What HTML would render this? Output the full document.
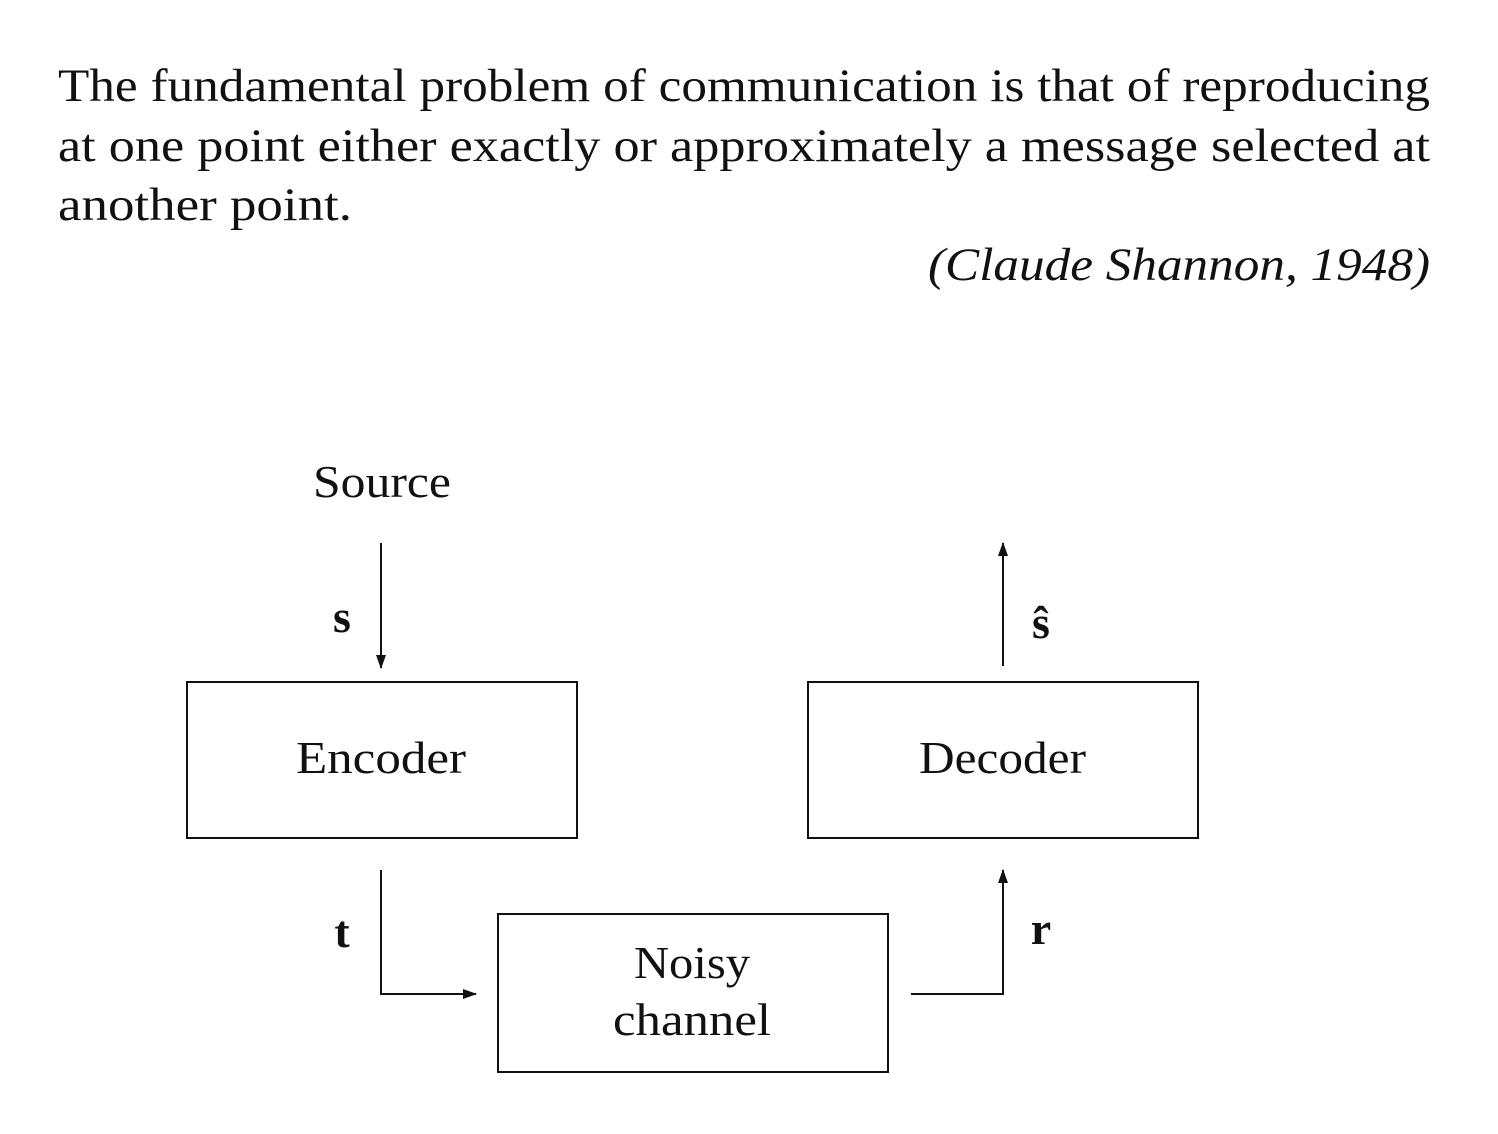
<!DOCTYPE html>
<html>
<head>
<meta charset="utf-8">
<style>
html,body{margin:0;padding:0;background:#fff;}
svg{display:block;}
text{font-family:"Liberation Serif",serif;fill:#111;}
</style>
</head>
<body>
<svg width="1498" height="1134" viewBox="0 0 1498 1134">
  <defs>
    <marker id="ah" markerWidth="14" markerHeight="10" refX="13" refY="5" orient="auto" markerUnits="userSpaceOnUse">
      <path d="M0,0 L14,5 L0,10 Z" fill="#111"/>
    </marker>
  </defs>
  <g font-size="47">
    <text x="58" y="101" textLength="1372" lengthAdjust="spacingAndGlyphs">The fundamental problem of communication is that of reproducing</text>
    <text x="58" y="161" textLength="1372" lengthAdjust="spacingAndGlyphs">at one point either exactly or approximately a message selected at</text>
    <text x="58" y="220" textLength="294" lengthAdjust="spacingAndGlyphs">another point.</text>
  </g>
  <text x="928" y="280" font-size="47" font-style="italic" textLength="502" lengthAdjust="spacingAndGlyphs">(Claude Shannon, 1948)</text>

  <g font-size="46">
    <text x="313" y="497" textLength="138" lengthAdjust="spacingAndGlyphs">Source</text>
    <text x="296" y="773" textLength="170" lengthAdjust="spacingAndGlyphs">Encoder</text>
    <text x="919" y="773" textLength="167" lengthAdjust="spacingAndGlyphs">Decoder</text>
    <text x="634" y="978" textLength="116" lengthAdjust="spacingAndGlyphs">Noisy</text>
    <text x="613" y="1035" textLength="158" lengthAdjust="spacingAndGlyphs">channel</text>
  </g>
  <g font-size="46" text-anchor="middle" font-weight="bold">
    <text x="342" y="632">s</text>
    <text x="1041" y="638">ŝ</text>
    <text x="342" y="947">t</text>
    <text x="1041" y="944">r</text>
  </g>

  <g fill="none" stroke="#111" stroke-width="2">
    <rect x="187" y="682" width="390" height="156"/>
    <rect x="808" y="682" width="390" height="156"/>
    <rect x="498" y="914" width="390" height="158"/>
    <line x1="381" y1="543" x2="381" y2="668" marker-end="url(#ah)"/>
    <line x1="1003" y1="666" x2="1003" y2="543" marker-end="url(#ah)"/>
    <polyline points="381,870 381,994 476,994" marker-end="url(#ah)"/>
    <polyline points="911,994 1003,994 1003,870" marker-end="url(#ah)"/>
  </g>
</svg>
</body>
</html>
